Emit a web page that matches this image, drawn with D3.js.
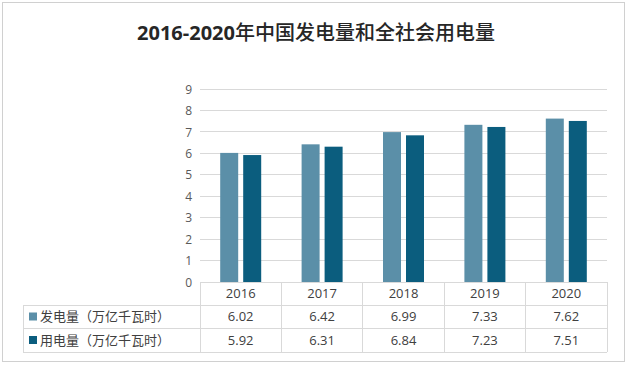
<!DOCTYPE html>
<html><head><meta charset="utf-8">
<script src="https://cdn.jsdelivr.net/npm/d3@7"></script>
<style>body{margin:0;background:#fff;}svg{display:block;font-family:"Open Sans","Noto Sans CJK SC",sans-serif;}</style>
</head><body>
<script>
const titleNum = "2016-2020";
const titleText = "年中国发电量和全社会用电量";
const years = ["2016","2017","2018","2019","2020"];
const seriesNames = ["发电量（万亿千瓦时）","用电量（万亿千瓦时）"];
const generation = [6.02,6.42,6.99,7.33,7.62];
const consumption = [5.92,6.31,6.84,7.23,7.51];
const yTicks = [0,1,2,3,4,5,6,7,8,9];
const colors = ["#5b8fa8","#0b5d7e"];

const W=629,H=368;
const svg=d3.select("body").append("svg").attr("width",W).attr("height",H);
svg.append("rect").attr("x",2.5).attr("y",2.5).attr("width",622).attr("height",359).attr("fill","#fff").attr("stroke","#d0d0d0");

const tt=svg.append("text").attr("x",266).attr("y",40).attr("text-anchor","middle")
  .attr("font-size",20).attr("fill","#262626");
tt.append("tspan").attr("font-weight","bold").attr("font-family","'Open Sans',sans-serif").text(titleNum);
tt.append("tspan").attr("font-weight","500").attr("font-family","'Noto Sans CJK SC',sans-serif").text(titleText);
// recentre title
const bb=tt.node().getBBox();
tt.attr("x",266+(316-(bb.x+bb.width/2)));

const x0=200,x1=607,yTop=89,yBot=282;
const x=d3.scaleBand().domain(years).range([x0,x1]);
const y=d3.scaleLinear().domain([0,9]).range([yBot,yTop]);

const g=svg.append("g");
g.selectAll(".grid").data(yTicks).join("line")
  .attr("x1",x0).attr("x2",x1).attr("y1",d=>y(d)).attr("y2",d=>y(d))
  .attr("stroke","#d9d9d9").attr("stroke-width",1).attr("shape-rendering","crispEdges");

const yAxis=svg.append("g").attr("transform",`translate(${x0-6},0)`)
  .call(d3.axisLeft(y).tickValues(yTicks).tickSize(0).tickPadding(0));
yAxis.select(".domain").remove();
yAxis.selectAll("text").attr("font-size",12).attr("fill","#595959").attr("x",-2).attr("dy","0.35em").attr("font-family","Open Sans, sans-serif");

const series=[generation,consumption];
const bw=18, gap=5;
series.forEach((vals,si)=>{
  g.selectAll(".b"+si).data(years).join("rect")
    .attr("x",d=>x(d)+x.bandwidth()/2 - (bw+gap/2) + si*(bw+gap))
    .attr("y",(d,i)=>y(vals[i]))
    .attr("width",bw)
    .attr("height",(d,i)=>yBot-y(vals[i]))
    .attr("fill",colors[si]);
});

// table
const rowY=[282,305,328,352];
const lineC="#d9d9d9";
const t=svg.append("g").attr("shape-rendering","crispEdges");
t.append("line").attr("x1",x0).attr("x2",x1).attr("y1",rowY[0]).attr("y2",rowY[0]).attr("stroke",lineC);
[1,2,3].forEach(i=>t.append("line").attr("x1",23).attr("x2",x1).attr("y1",rowY[i]).attr("y2",rowY[i]).attr("stroke",lineC));
years.forEach(d=>t.append("line").attr("x1",x(d)).attr("x2",x(d)).attr("y1",rowY[0]).attr("y2",rowY[3]).attr("stroke",lineC));
t.append("line").attr("x1",x1).attr("x2",x1).attr("y1",rowY[0]).attr("y2",rowY[3]).attr("stroke",lineC);
t.append("line").attr("x1",23).attr("x2",23).attr("y1",rowY[1]).attr("y2",rowY[3]).attr("stroke",lineC);

svg.selectAll(".yr").data(years).join("text")
  .attr("x",d=>x(d)+x.bandwidth()/2).attr("y",(rowY[0]+rowY[1])/2).attr("dy","0.35em")
  .attr("text-anchor","middle").attr("font-size",13).attr("fill","#404040").text(d=>d);

series.forEach((vals,si)=>{
  const cy=(rowY[si+1]+rowY[si+2])/2;
  svg.append("rect").attr("x",29).attr("y",cy-4).attr("width",8).attr("height",8).attr("fill",colors[si]);
  svg.append("text").attr("x",40).attr("y",cy).attr("dy","0.35em").attr("font-size",13)
    .attr("fill","#404040").attr("font-family","'Noto Sans CJK SC',sans-serif").text(seriesNames[si]);
  svg.selectAll(".v"+si).data(years).join("text")
    .attr("x",d=>x(d)+x.bandwidth()/2).attr("y",cy).attr("dy","0.35em")
    .attr("text-anchor","middle").attr("font-size",13).attr("fill","#404040")
    .text((d,i)=>vals[i].toFixed(2));
});
</script>
</body></html>
